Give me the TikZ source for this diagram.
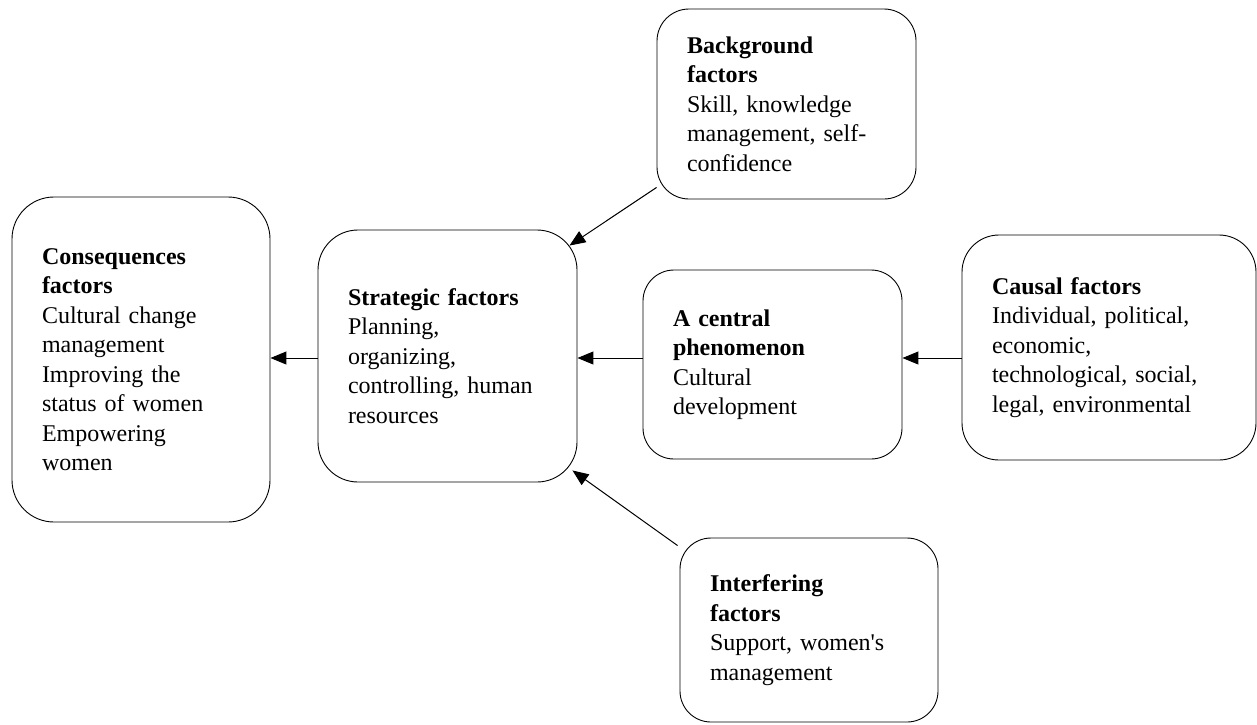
\documentclass[tikz,border=0pt]{standalone}
\usepackage{fontspec}
\setmainfont{Liberation Serif}[Ligatures=TeXOff]
\usetikzlibrary{arrows.meta}
\tikzset{
  factorbox/.style={draw=black, line width=0.9pt, align=left, inner xsep=30pt, inner ysep=0pt,
    font=\fontsize{24}{29.5}\selectfont},
  arr/.style={line width=1pt, -{Triangle[length=16pt,width=13pt]}}
}
\begin{document}
\begin{tikzpicture}[x=1pt,y=-1pt]
\useasboundingbox (0,0) rectangle (1257,724);
\node[factorbox, rounded corners=42pt, minimum width=258pt, minimum height=325pt, text width=198pt] (cons) at (141,359.5)
  {\textbf{Consequences}\\\textbf{factors}\\Cultural change\\management\\Improving the\\status of women\\Empowering\\women};
\node[factorbox, rounded corners=40pt, minimum width=259pt, minimum height=252pt, text width=199pt] (strat) at (447.5,356)
  {\textbf{Strategic factors}\\Planning,\\organizing,\\controlling, human\\resources};
\node[factorbox, rounded corners=31pt, minimum width=259pt, minimum height=189pt, text width=199pt] (central) at (772.5,364.5)
  {\textbf{A central}\\\textbf{phenomenon}\\Cultural\\development};
\node[factorbox, rounded corners=32pt, minimum width=259pt, minimum height=190pt, text width=199pt] (bg) at (786.5,104)
  {\textbf{Background}\\\textbf{factors}\\Skill, knowledge\\management, self-\\confidence};
\node[factorbox, rounded corners=37pt, minimum width=294pt, minimum height=225pt, text width=234pt] (causal) at (1109,347.5)
  {\textbf{Causal factors}\\Individual, political,\\economic,\\technological, social,\\legal, environmental};
\node[factorbox, rounded corners=31pt, minimum width=258pt, minimum height=184pt, text width=198pt] (interf) at (809,630)
  {\textbf{Interfering}\\\textbf{factors}\\Support, women's\\management};
\coordinate (midline) at (0,358);
\draw[arr] (causal.west |- midline) -- (central.east |- midline);
\draw[arr] (central.west |- midline) -- (strat.east |- midline);
\draw[arr] (strat.west |- midline) -- (cons.east |- midline);
\draw[arr] ([yshift=12pt]bg.south west) -- ([xshift=-8pt,yshift=-16pt]strat.north east);
\draw[arr] ([xshift=-2pt,yshift=-8pt]interf.north west) -- ([xshift=-5pt,yshift=12pt]strat.south east);
\end{tikzpicture}
\end{document}
